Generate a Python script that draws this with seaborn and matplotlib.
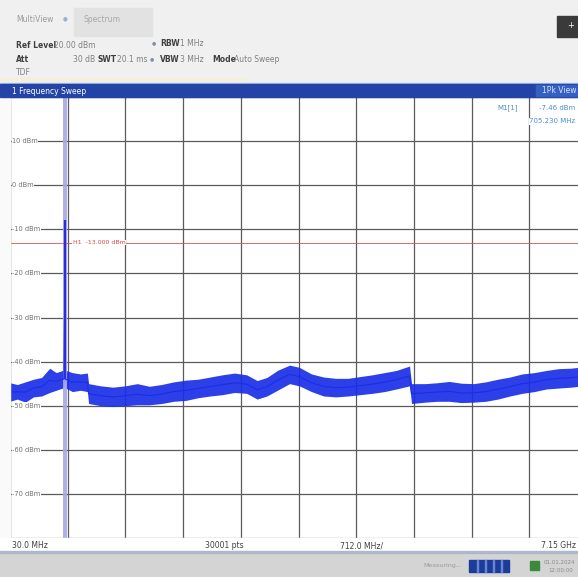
import numpy as np
import pandas as pd
import matplotlib
matplotlib.use("Agg")
import matplotlib.pyplot as plt
from matplotlib.patches import Rectangle
import seaborn as sns

# ---------------- data ----------------
freq_mhz = [30, 120, 220, 320, 420, 520, 600, 680, 695, 705, 715, 800, 900, 985,
            1000, 1150, 1300, 1450, 1600, 1750, 1900, 2050, 2200, 2350, 2500,
            2650, 2800, 2950, 3080, 3200, 3330, 3480, 3600, 3750, 3900, 4050,
            4200, 4350, 4500, 4650, 4800, 4960, 4985, 5150, 5300, 5450, 5600,
            5750, 5900, 6050, 6200, 6350, 6500, 6650, 6800, 6950, 7100, 7150]
trace_low = [-49.0, -48.5, -49.2, -48.0, -47.8, -47.0, -46.5, -46.0, -46.0, -44.0, -46.0,
             -46.8, -46.5, -46.8, -49.5, -50.0, -50.2, -50.0, -49.8, -49.8, -49.5,
             -49.0, -48.8, -48.2, -47.8, -47.5, -47.0, -47.2, -48.5, -47.8, -46.5,
             -45.0, -45.5, -46.8, -47.8, -48.0, -47.8, -47.5, -47.2, -46.8, -46.2,
             -45.5, -49.5, -49.2, -49.0, -49.0, -49.3, -49.2, -49.0, -48.5, -47.8,
             -47.2, -46.8, -46.2, -46.0, -45.8, -45.5, -45.5]
trace_high = [-44.8, -45.2, -44.6, -44.0, -43.6, -41.5, -42.5, -42.0, -42.0, -8.0, -42.0,
              -42.5, -42.8, -42.6, -45.0, -45.5, -45.8, -45.5, -45.0, -45.6, -45.2,
              -44.6, -44.2, -44.0, -43.5, -43.0, -42.6, -43.0, -44.3, -43.6, -42.0,
              -40.8, -41.3, -42.8, -43.5, -43.8, -43.8, -43.4, -43.0, -42.5, -42.0,
              -41.0, -45.0, -45.0, -44.8, -44.5, -44.9, -45.0, -44.6, -44.0, -43.5,
              -42.8, -42.5, -42.0, -41.6, -41.5, -41.2, -41.5]

y_ticks = [10, 0, -10, -20, -30, -40, -50, -60, -70]
y_labels = ["10 dBm", "0 dBm", "-10 dBm", "-20 dBm", "-30 dBm", "-40 dBm",
            "-50 dBm", "-60 dBm", "-70 dBm"]
start_mhz, span_div_mhz, n_div = 30.0, 712.0, 10
ref_level, y_bottom = 20, -80
limit_line = -13.0
marker_freq = 705.23

# ---------------- figure ----------------
W, H = 578, 577
fig = plt.figure(figsize=(W / 100, H / 100), dpi=100)
fig.patch.set_facecolor("#f0f0f0")

def fx(x):
    return x / W

def fy(y):
    return 1 - y / H

def frect(x0, y0, x1, y1, **kw):
    fig.patches.append(Rectangle((fx(x0), fy(y1)), fx(x1) - fx(x0), fy(y0) - fy(y1),
                                 transform=fig.transFigure, **kw))

def ftext(x, y, s, **kw):
    kw.setdefault("fontsize", 5.5)
    kw.setdefault("va", "center")
    kw.setdefault("color", "#404040")
    fig.text(fx(x), fy(y), s, **kw)

# header
frect(74, 8, 152, 36, color="#e2e2e2", zorder=0)
ftext(16, 20, "MultiView", color="#9a9a9a")
ftext(63, 19, "●", color="#9ab0d0", fontsize=4)
ftext(84, 20, "Spectrum", color="#a8a8a8")
frect(557, 16, 578, 37, color="#3a3a3a", zorder=1)
ftext(571, 26, "+", color="white", fontsize=6, ha="center")

ftext(16, 45, "Ref Level", fontweight="bold")
ftext(54, 45, "20.00 dBm", color="#808080")
ftext(152, 43, "●", color="#8090a0", fontsize=3.5)
ftext(160, 44, "RBW", fontweight="bold")
ftext(180, 44, "1 MHz", color="#808080")
ftext(16, 60, "Att", fontweight="bold")
ftext(73, 60, "30 dB", color="#808080")
ftext(98, 60, "SWT", fontweight="bold")
ftext(117, 60, "20.1 ms", color="#808080")
ftext(150, 59, "●", color="#8090a0", fontsize=3.5)
ftext(160, 60, "VBW", fontweight="bold")
ftext(180, 60, "3 MHz", color="#808080")
ftext(212, 60, "Mode", fontweight="bold")
ftext(234, 60, "Auto Sweep", color="#808080")
ftext(16, 72, "TDF", color="#808080")
frect(0, 78, 245, 80, color="#f4f0d8", zorder=0)

# title bar
frect(0, 83, 578, 84.5, color="#b0c4e8", zorder=1)
frect(0, 84.5, 578, 97, color="#2344a6", zorder=1)
ftext(12, 91, "1 Frequency Sweep", color="white")
frect(536, 85, 578, 96, color="#3560c0", zorder=2)
ftext(576, 90.5, "1Pk View", color="#d8e4ff", ha="right")

# bottom strips
frect(0, 97, 10, 552, color="#fafafa", zorder=0)
frect(0, 538, 578, 552, color="white", zorder=0)
frect(0, 551, 578, 553, color="#aeb8cc", zorder=1)
frect(0, 553, 578, 577, color="#d4d4d4", zorder=0)
ftext(12, 546, "30.0 MHz", color="#404040")
ftext(205, 546, "30001 pts", color="#404040")
ftext(340, 546, "712.0 MHz/", color="#404040")
ftext(576, 546, "7.15 GHz", color="#404040", ha="right")
ftext(423, 566, "Measuring...", color="#9a9a9a", fontsize=4.5)
frect(469, 560, 509, 572, color="#1c3c9c", zorder=1)
for k in range(1, 5):
    frect(469 + k * 8, 560, 469.8 + k * 8, 572, color="#6a86d0", zorder=2)
frect(530, 561, 539, 570, color="#3a8a3a", zorder=1)
ftext(544, 562, "01.01.2024", color="#8a8a8a", fontsize=4)
ftext(548, 571, "12:00:00", color="#8a8a8a", fontsize=4)

# ---------------- main spectrum axes ----------------
sns.set_style("white")
x_right = 10 + 57.7 * n_div
ax = fig.add_axes([fx(10), fy(538), fx(x_right) - fx(10), fy(97) - fy(538)])
ax.set_facecolor("white")
x_end = start_mhz + span_div_mhz * n_div
ax.set_xlim(start_mhz, x_end)
ax.set_ylim(y_bottom, ref_level)
ax.set_xticks([start_mhz + k * span_div_mhz for k in range(n_div + 1)])
ax.set_yticks(list(range(y_bottom, ref_level + 1, 10)))
ax.grid(True, color="#5a5a5a", lw=0.9)
ax.set_axisbelow(True)
ax.tick_params(length=0, labelbottom=False, labelleft=False)
for s in ax.spines.values():
    s.set_visible(False)
ax.spines["left"].set_visible(True)
ax.spines["left"].set_color("#606060")

# marker column highlight
ax.axvspan(marker_freq - 26, marker_freq + 26, color="#a8a8e6", alpha=0.9, lw=0, zorder=2)

# trace band via seaborn (min..max interval)
df = pd.DataFrame({
    "freq": freq_mhz + freq_mhz,
    "level": trace_low + trace_high,
})
sns.lineplot(data=df, x="freq", y="level", ax=ax, estimator="mean",
             errorbar=("pi", 100), color="#1a2ee6", lw=0.8,
             err_kws={"alpha": 0.92, "lw": 0}, zorder=3)
# peak line, drawn from the peak's own low/high values
ipk = freq_mhz.index(705)
ax.vlines(freq_mhz[ipk], trace_low[ipk], trace_high[ipk], color="#2a2ee0", lw=1.6, zorder=3)
ax.set_xlabel("")
ax.set_ylabel("")
ax.set_xlim(start_mhz, x_end)
ax.set_ylim(y_bottom, ref_level)

# limit line
ax.axhline(limit_line, color="#e05050", lw=0.6, zorder=2)
ax.text(start_mhz + 1.0 * span_div_mhz + 60, limit_line, "H1  -13.000 dBm",
        color="#e04848", fontsize=4.5, va="center", zorder=4,
        bbox=dict(facecolor="white", edgecolor="none", pad=0.3))

# y labels inside plot
ytr = ax.get_yaxis_transform()
for v, lab in zip(y_ticks, y_labels):
    ax.text(0.004, v, lab, transform=ytr, fontsize=4.8, color="#707070",
            va="center", ha="left", zorder=4,
            bbox=dict(facecolor="white", edgecolor="none", pad=0.2))

# marker readout
ax.text(0.845, 0.975, "M1[1]", transform=ax.transAxes, fontsize=5,
        color="#4a90d0", ha="left", va="center", zorder=4)
ax.text(0.98, 0.975, "-7.46 dBm", transform=ax.transAxes, fontsize=5,
        color="#4a90d0", ha="right", va="center", zorder=4,
        bbox=dict(facecolor="white", edgecolor="none", pad=0.2))
ax.text(0.98, 0.945, "705.230 MHz", transform=ax.transAxes, fontsize=5,
        color="#4a90d0", ha="right", va="center", zorder=4,
        bbox=dict(facecolor="white", edgecolor="none", pad=0.2))

fig.savefig("out.png", dpi=100, facecolor=fig.get_facecolor())
